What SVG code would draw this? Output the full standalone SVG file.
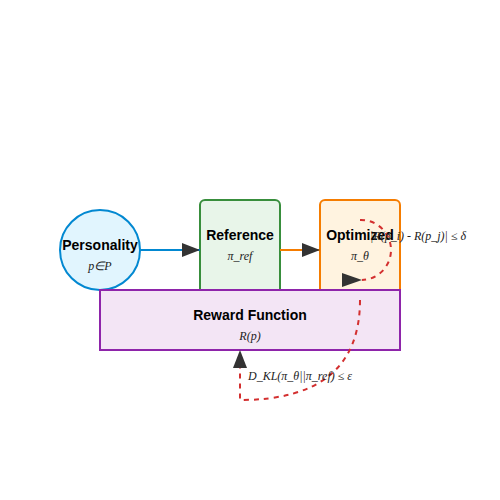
<svg xmlns="http://www.w3.org/2000/svg" width="500" height="500" viewBox="0 0 500 500">
<defs>
<style>
.t{font-family:"Liberation Sans",Arial,sans-serif;font-size:14px;font-weight:bold;fill:#000;text-anchor:middle}
.m{font-family:"Liberation Serif","Times New Roman",serif;font-size:12px;font-style:italic;fill:#222;text-anchor:middle}
.d{fill:none;stroke:#d32f2f;stroke-width:2;stroke-dasharray:5,5}
</style>
<marker id="ah" markerWidth="18" markerHeight="14" refX="18" refY="7" orient="auto" markerUnits="userSpaceOnUse"><path d="M0,0 L18,7 L0,14 Z" fill="#333"/></marker>
<marker id="ahr" markerWidth="20" markerHeight="14" refX="20" refY="7" orient="0" markerUnits="userSpaceOnUse"><path d="M0,0 L20,7 L0,14 Z" fill="#333"/></marker>
</defs>
<rect width="500" height="500" fill="#fff"/>
<g id="personality">
<circle cx="100" cy="250" r="40" fill="#e1f5fe" stroke="#0288d1" stroke-width="2"/>
<text class="t" x="100" y="250">Personality</text>
<text class="m" x="100" y="270">p∈P</text>
</g>
<g id="reference">
<rect x="200" y="200" width="80" height="100" rx="5" fill="#e8f5e9" stroke="#388e3c" stroke-width="2"/>
<text class="t" x="240" y="240">Reference</text>
<text class="m" x="240" y="260">π_ref</text>
</g>
<g id="optimized">
<rect x="320" y="200" width="80" height="100" rx="5" fill="#fff3e0" stroke="#f57c00" stroke-width="2"/>
<text class="t" x="360" y="240">Optimized</text>
<text class="m" x="360" y="260">π_θ</text>
</g>
<g id="reward">
<rect x="100" y="290" width="300" height="60" fill="#f3e5f5" stroke="#8e24aa" stroke-width="2"/>
<text class="t" x="250" y="320">Reward Function</text>
<text class="m" x="250" y="340">R(p)</text>
</g>
<g id="connectors">
<line x1="140" y1="250" x2="200" y2="250" stroke="#0288d1" stroke-width="2" marker-end="url(#ah)"/>
<line x1="280" y1="250" x2="320" y2="250" stroke="#f57c00" stroke-width="2" marker-end="url(#ah)"/>
<path class="d" d="M360,300 Q360,400 240,400 L240,350" marker-end="url(#ah)"/>
<path class="d" d="M360,220 A30,30 0 0 1 362,280" marker-end="url(#ahr)"/>
<text class="m" x="248" y="380" style="text-anchor:start">D_KL(π_θ||π_ref) ≤ ε</text>
<text class="m" x="370" y="240" style="text-anchor:start">|R(p_i) - R(p_j)| ≤ δ</text>
</g>
</svg>
